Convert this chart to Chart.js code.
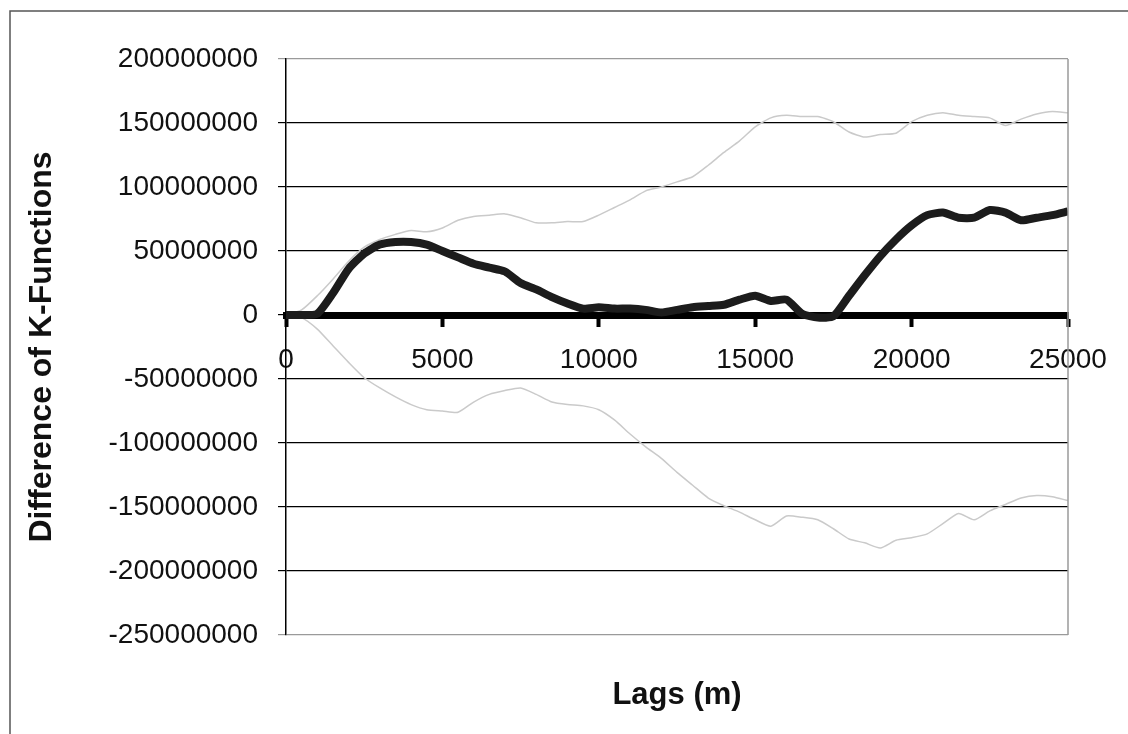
<!DOCTYPE html>
<html>
<head>
<meta charset="utf-8">
<script src="https://cdn.jsdelivr.net/npm/chart.js@4"></script>
<style>
  html, body { margin: 0; padding: 0; background: #fff; }
  #wrap { width: 1128px; height: 734px; }
</style>
</head>
<body>
<div id="wrap"><canvas id="kChart" width="1128" height="734"></canvas></div>
<script>
// lag distances (m)
const lags = [
    0, 500, 1000, 1500, 2000, 2500, 3000, 3500, 4000, 4500,
    5000, 5500, 6000, 6500, 7000, 7500, 8000, 8500, 9000, 9500,
    10000, 10500, 11000, 11500, 12000, 12500, 13000, 13500, 14000, 14500,
    15000, 15500, 16000, 16500, 17000, 17500, 18000, 18500, 19000, 19500,
    20000, 20500, 21000, 21500, 22000, 22500, 23000, 23500, 24000, 24500,
    25000,
];

// difference of K-functions, in millions
const observed = [
    0, 0, 1, 17, 36, 48, 55, 57, 57, 55,
    50, 45, 40, 37, 34, 25, 20, 14, 9, 5,
    6, 5, 5, 4, 2, 4, 6, 7, 8, 12,
    15, 11, 12, 1, -2, -1, 15, 31, 46, 59,
    70, 78, 80, 76, 76, 82, 80, 74, 76, 78,
    81,
];
const upperEnvelope = [
    0, 4, 15, 28, 42, 53, 59, 63, 66, 65,
    68, 74, 77, 78, 79, 76, 72, 72, 73, 73,
    78, 84, 90, 97, 100, 104, 108, 117, 127, 136,
    147, 154, 156, 155, 155, 151, 143, 139, 141, 142,
    151, 156, 158, 156, 155, 154, 148, 153, 157, 159,
    158,
];
const lowerEnvelope = [
    0, -2, -11, -24, -37, -49, -57, -64, -70, -74,
    -75, -76, -68, -62, -59, -57, -62, -68, -70, -71,
    -74, -82, -93, -103, -112, -123, -133, -143, -149, -154,
    -160, -165, -157, -158, -160, -167, -175, -178, -182, -176,
    -174, -171, -163, -155, -160, -153, -148, -143, -141, -142,
    -145,
];

const toPoints = (vals) => lags.map((x, i) => ({ x: x, y: vals[i] * 1e6 }));

const font = 'Liberation Sans, Arial, sans-serif';

// page frame and right edge of the plot
const framePlugin = {
    id: 'frame',
    beforeDraw(chart) {
        const ctx = chart.ctx;
        ctx.save();
        ctx.fillStyle = '#fff';
        ctx.fillRect(0, 0, chart.width, chart.height);
        ctx.strokeStyle = '#555';
        ctx.lineWidth = 1.5;
        ctx.beginPath();
        ctx.moveTo(10, chart.height);
        ctx.lineTo(10, 11);
        ctx.lineTo(chart.width, 11);
        ctx.stroke();
        ctx.restore();
    },
    afterDatasetsDraw(chart) {
        const a = chart.chartArea;
        const ctx = chart.ctx;
        ctx.save();
        ctx.strokeStyle = '#9a9a9a';
        ctx.lineWidth = 1.5;
        ctx.beginPath();
        ctx.moveTo(a.right, a.top);
        ctx.lineTo(a.right, a.bottom);
        ctx.stroke();
        ctx.restore();
    },
};

const kc = document.getElementById('kChart');

if (kc) {
    new Chart(kc, {
        type: 'line',
        data: {
            datasets: [
                {
                    label: 'Observed',
                    data: toPoints(observed),
                    borderColor: '#1c1c1c',
                    borderWidth: 8,
                    pointRadius: 0,
                    tension: 0.2,
                    order: 1,
                },
                {
                    label: 'Upper envelope',
                    data: toPoints(upperEnvelope),
                    borderColor: '#cacaca',
                    borderWidth: 1.5,
                    pointRadius: 0,
                    tension: 0.2,
                    order: 2,
                },
                {
                    label: 'Lower envelope',
                    data: toPoints(lowerEnvelope),
                    borderColor: '#cacaca',
                    borderWidth: 1.5,
                    pointRadius: 0,
                    tension: 0.2,
                    order: 3,
                },
            ],
        },
        options: {
            responsive: false,
            animation: false,
            layout: {
                padding: { left: 0, top: 59, right: 60, bottom: 0 },
            },
            plugins: {
                legend: { display: false },
                tooltip: { enabled: false },
            },
            scales: {
                x: {
                    type: 'linear',
                    position: { y: 0 },
                    min: 0,
                    max: 25000,
                    ticks: {
                        stepSize: 5000,
                        color: '#111',
                        padding: 20,
                        maxRotation: 0,
                        font: { family: font, size: 28 },
                        callback: (v) => String(v),
                    },
                    grid: {
                        drawOnChartArea: false,
                        drawTicks: true,
                        tickLength: 8,
                        tickWidth: 4,
                        color: '#000',
                    },
                    border: { display: true, color: '#000', width: 7 },
                },
                xt: {
                    type: 'linear',
                    position: 'bottom',
                    min: 0,
                    max: 25000,
                    ticks: { display: false },
                    grid: { display: false },
                    border: { display: false },
                    title: {
                        display: true,
                        text: 'Lags (m)',
                        color: '#111',
                        font: { family: font, size: 31, weight: 'bold' },
                        padding: { top: 0, bottom: 20 },
                    },
                    afterFit: (scale) => { scale.height = 99; },
                },
                y: {
                    min: -250000000,
                    max: 200000000,
                    ticks: {
                        stepSize: 50000000,
                        color: '#111',
                        padding: 20,
                        font: { family: font, size: 28 },
                        callback: (v) => String(v),
                    },
                    grid: {
                        color: (c) => (c.tick && (c.tick.value === 200000000 || c.tick.value === -250000000)) ? '#9a9a9a' : '#000',
                        lineWidth: 1.2,
                        tickLength: 8,
                    },
                    border: { color: '#000', width: 1.5 },
                    title: {
                        display: true,
                        text: 'Difference of K-Functions',
                        color: '#111',
                        font: { family: font, size: 32, weight: 'bold' },
                        padding: { top: 23, bottom: 0 },
                    },
                    afterFit: (scale) => { scale.width = 286; },
                },
            },
        },
        plugins: [framePlugin],
    });
}
</script>
</body>
</html>
